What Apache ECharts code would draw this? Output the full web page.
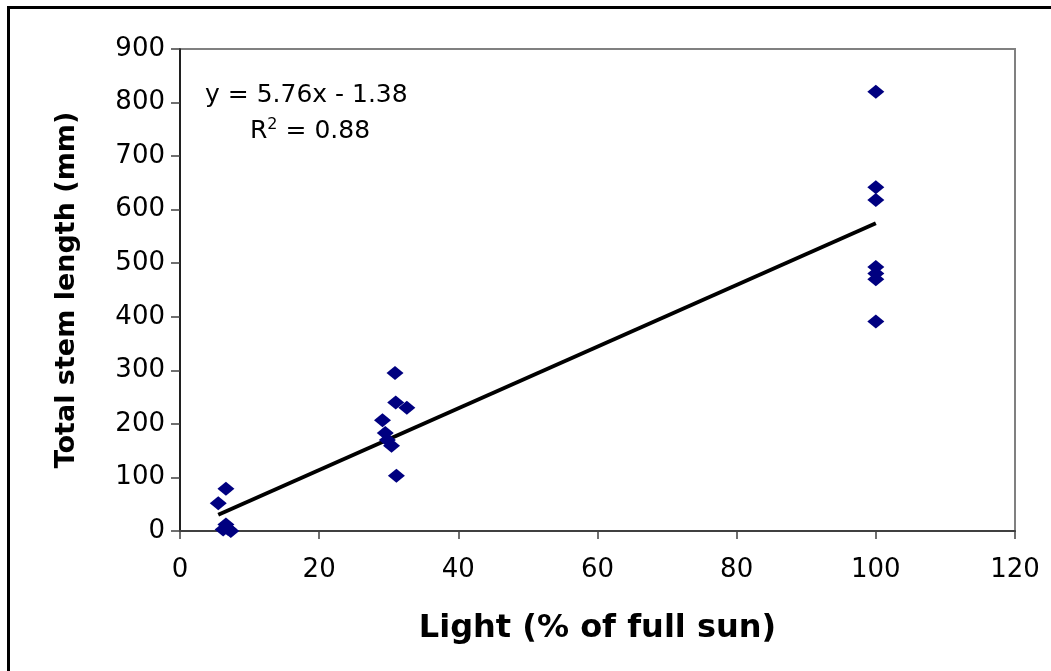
<!DOCTYPE html>
<html>
<head>
<meta charset="utf-8">
<script src="https://cdn.jsdelivr.net/npm/echarts@6/dist/echarts.min.js"></script>
<style>html,body{margin:0;padding:0;background:#fff;}#c{width:1051px;height:671px;}</style>
</head>
<body>
<div id="c"></div>
<script>
// Data
var lightX = [5.5, 6.6, 6.6, 6.2, 7.3, 6.9, 30.9, 31.0, 32.6, 29.1, 29.5, 29.8, 30.4, 31.1, 100, 100, 100, 100, 100, 100, 100];
var stemY  = [52, 79, 12, 3, 0, 4, 295, 240, 230, 207, 183, 170, 159, 103, 820, 642, 618, 493, 481, 470, 391];
var trendX = [5.5, 100];
var trendY = [30.3, 574.6];
var xTicks = [0, 20, 40, 60, 80, 100, 120];
var yTicks = [0, 100, 200, 300, 400, 500, 600, 700, 800, 900];
var eqLine1 = 'y = 5.76x - 1.38';
var eqLine2 = 'R{sup|2} = 0.88';
var xTitle = 'Light (% of full sun)';
var yTitle = 'Total stem length (mm)';

var points = lightX.map(function (x, i) { return [x, stemY[i]]; });
var trend = trendX.map(function (x, i) { return [x, trendY[i]]; });

var chart = echarts.init(document.getElementById('c'), null, {renderer: 'canvas'});
chart.setOption({
  animation: false,
  backgroundColor: '#fff',
  grid: {left: 180, right: 36, top: 49, bottom: 140, show: true, borderColor: '#808080', borderWidth: 2, backgroundColor: '#fff'},
  xAxis: {
    type: 'value', min: xTicks[0], max: xTicks[xTicks.length - 1], interval: 20,
    splitLine: {show: false},
    axisLine: {show: true, onZero: false, lineStyle: {color: '#404040', width: 2}},
    axisTick: {show: true, inside: false, length: 8, lineStyle: {color: '#404040', width: 1.5}},
    axisLabel: {margin: 26, color: '#000', fontFamily: 'DejaVu Sans', fontSize: 26},
    name: xTitle, nameLocation: 'middle', nameGap: 82,
    nameTextStyle: {fontFamily: 'DejaVu Sans', fontWeight: 'bold', fontSize: 32, color: '#000'}
  },
  yAxis: {
    type: 'value', min: yTicks[0], max: yTicks[yTicks.length - 1], interval: 100,
    splitLine: {show: false},
    axisLine: {show: true, onZero: false, lineStyle: {color: '#000', width: 1.5}},
    axisTick: {show: true, inside: false, length: 9, lineStyle: {color: '#404040', width: 1.5}},
    axisLabel: {margin: 15, color: '#000', fontFamily: 'DejaVu Sans', fontSize: 26},
    name: yTitle, nameLocation: 'middle', nameGap: 100, nameRotate: 90,
    nameTextStyle: {fontFamily: 'DejaVu Sans', fontWeight: 'bold', fontSize: 27, color: '#000'}
  },
  series: [
    {
      type: 'line', data: trend, showSymbol: false, symbol: 'none',
      lineStyle: {color: '#000', width: 4}, z: 2
    },
    {
      type: 'scatter', data: points, symbol: 'diamond', symbolSize: [17, 14],
      itemStyle: {color: '#000080', opacity: 1}, z: 3
    }
  ],
  graphic: [
    {type: 'rect', shape: {x: 8.5, y: 7.5, width: 1100, height: 700}, style: {fill: 'none', stroke: '#000', lineWidth: 3}, z: 100},
    {type: 'text', left: 205, top: 83, style: {text: eqLine1, fontFamily: 'DejaVu Sans', fontSize: 25, fill: '#000'}, z: 50},
    {type: 'text', left: 250, top: 117, style: {
      text: eqLine2, fontFamily: 'DejaVu Sans', fontSize: 25, fill: '#000',
      rich: {sup: {fontFamily: 'DejaVu Sans', fontSize: 16, verticalAlign: 'top', padding: [0, 0, 12, 0]}}
    }, z: 50}
  ]
});
</script>
</body>
</html>
